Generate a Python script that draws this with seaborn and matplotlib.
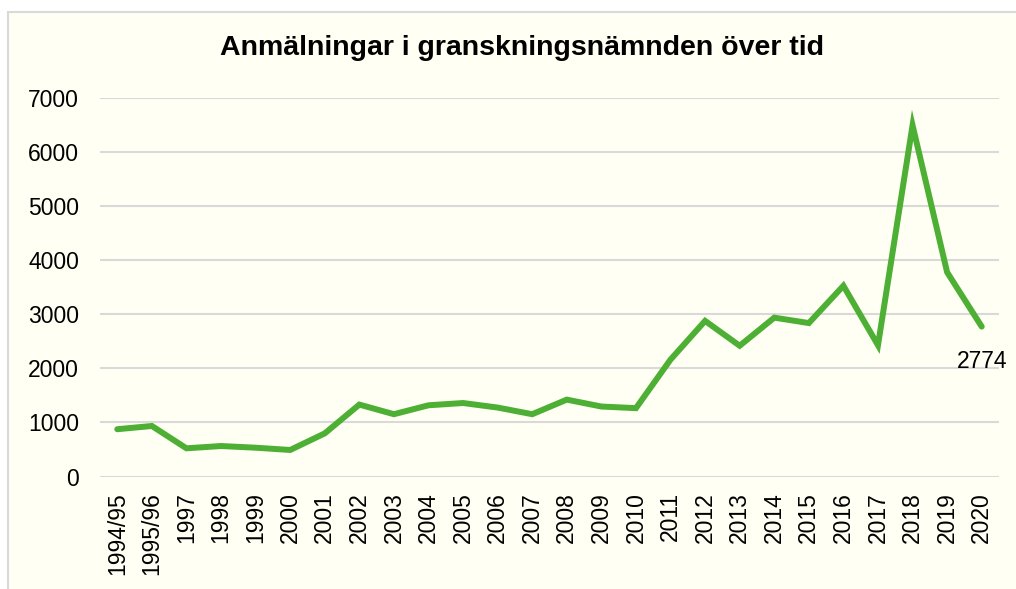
import matplotlib
matplotlib.use("Agg")
import matplotlib.pyplot as plt
import matplotlib.patches as patches
import seaborn as sns
import pandas as pd

# data
periods = ["1994/95", "1995/96", "1997", "1998", "1999", "2000", "2001", "2002",
           "2003", "2004", "2005", "2006", "2007", "2008", "2009", "2010",
           "2011", "2012", "2013", "2014", "2015", "2016", "2017", "2018",
           "2019", "2020"]
counts = [875, 935, 522, 564, 533, 491, 798, 1331,
          1153, 1318, 1360, 1276, 1153, 1423, 1295, 1265,
          2164, 2880, 2420, 2940, 2840, 3530, 2430, 6500,
          3780, 2774]
yticks = [0, 1000, 2000, 3000, 4000, 5000, 6000, 7000]
title = "Anmälningar i granskningsnämnden över tid"

df = pd.DataFrame({"period": periods, "count": counts})

sns.set_theme(style="white")
plt.rcParams["font.family"] = ["Liberation Sans", "DejaVu Sans"]

cream = "#FFFFF3"
green = "#4DAF33"
grid = "#D9D9D9"

fig = plt.figure(figsize=(10.16, 5.89), dpi=100, facecolor="white")
# chart area box
fig.patches.append(patches.Rectangle((8 / 1016, -0.02), 1.1, 1 - 12 / 589 + 0.02,
                                      transform=fig.transFigure, facecolor=cream,
                                      edgecolor=grid, linewidth=1.5, zorder=-1))

ax = fig.add_axes([100 / 1016, 1 - 476.5 / 589, 899 / 1016, (476.5 - 98.3) / 589])
ax.set_facecolor("none")

sns.lineplot(data=df, x="period", y="count", sort=False, ax=ax,
             color=green, linewidth=4.3, solid_joinstyle="miter",
             solid_capstyle="round", zorder=3)

ax.set_xlim(-0.5, len(periods) - 0.5)
ax.set_ylim(0, 7000)
ax.set_yticks(yticks)
ax.set_yticklabels([str(t) for t in yticks])
ax.yaxis.grid(True, color=grid, linewidth=1.5)
ax.xaxis.grid(False)
for s in ax.spines.values():
    s.set_visible(False)
ax.tick_params(axis="y", length=0, pad=15, labelsize=16.5, labelcolor="black")
ax.tick_params(axis="x", length=0, pad=11, labelsize=16.5, labelcolor="black",
               labelrotation=90)
ax.set_xlabel("")
ax.set_ylabel("")

ax.annotate(str(counts[-1]), (len(periods) - 1, counts[-1]), xytext=(0, -17),
            textcoords="offset points", ha="center", va="top", fontsize=16.5,
            color="black")

fig.text(522 / 1016, 1 - 48 / 589, title, ha="center", va="center",
         fontsize=20.5, fontweight="bold", color="black")

fig.savefig("out.png", dpi=100, facecolor="white")
